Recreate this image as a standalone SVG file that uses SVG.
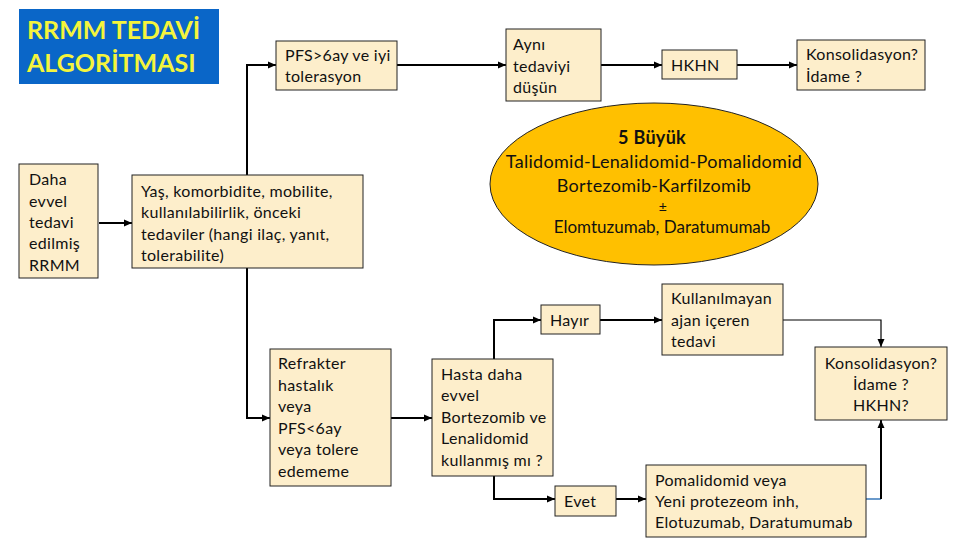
<svg xmlns="http://www.w3.org/2000/svg" width="960" height="540" viewBox="0 0 960 540">
<style>
.box{fill:#FDEECB;stroke:#222;stroke-width:1}
.t{font-family:Lato,"Open Sans","Liberation Sans",sans-serif;font-size:16px;letter-spacing:0.3px;fill:#111}
.c{text-anchor:middle}
.e{font-family:Lato,"Open Sans","Liberation Sans",sans-serif;font-size:18px;letter-spacing:0.3px;fill:#111;text-anchor:middle}
.ln{fill:none;stroke:#000;stroke-width:2}
.thin{fill:none;stroke:#000;stroke-width:1.2}
</style>
<defs>
<marker id="ah" markerUnits="userSpaceOnUse" markerWidth="8" markerHeight="8" refX="8" refY="4" orient="auto">
<path d="M0,0.5 L8,4 L0,7.5 z" fill="#000"/>
</marker>
</defs>
<rect width="960" height="540" fill="#fff"/>
<g id="title">
<rect x="19" y="9" width="200" height="75" fill="#0A66C8"/>
<text x="27" y="39" font-family="Lato,'Open Sans','Liberation Sans',sans-serif" font-size="25" font-weight="bold" fill="#F4F43C">RRMM TEDAVİ</text>
<text x="27" y="72" font-family="Lato,'Open Sans','Liberation Sans',sans-serif" font-size="25" font-weight="bold" fill="#F4F43C">ALGORİTMASI</text>
</g>
<g id="connectors">
<path class="ln" d="M99,223 H132" marker-end="url(#ah)"/>
<path class="ln" d="M247,175 V65 H276" marker-end="url(#ah)"/>
<path class="ln" d="M247,268 V418 H270" marker-end="url(#ah)"/>
<path class="ln" d="M397,65 H506" marker-end="url(#ah)"/>
<path class="ln" d="M601,65 H662" marker-end="url(#ah)"/>
<path class="ln" d="M737,65 H797" marker-end="url(#ah)"/>
<path class="ln" d="M391,418 H432" marker-end="url(#ah)"/>
<path class="ln" d="M494,359 V320 H541" marker-end="url(#ah)"/>
<path class="ln" d="M600,320 H662" marker-end="url(#ah)"/>
<path class="thin" d="M783,320 H881 V347" marker-end="url(#ah)"/>
<path class="ln" d="M494,476 V499 H555" marker-end="url(#ah)"/>
<path class="ln" d="M616,499 H646" marker-end="url(#ah)"/>
<path d="M866,499 H881" fill="none" stroke="#6A9ACB" stroke-width="2"/>
<path class="ln" d="M881,499 V420" marker-end="url(#ah)"/>
</g>
<g id="daha">
<rect class="box" x="19" y="164" width="79" height="114"/>
<text class="t" x="29" y="185">Daha</text>
<text class="t" x="29" y="207">evvel</text>
<text class="t" x="29" y="228">tedavi</text>
<text class="t" x="29" y="249">edilmiş</text>
<text class="t" x="29" y="271">RRMM</text>
</g>
<g id="yas">
<rect class="box" x="132" y="175" width="231" height="93"/>
<text class="t" x="141" y="197">Yaş, komorbidite, mobilite,</text>
<text class="t" x="141" y="218">kullanılabilirlik, önceki</text>
<text class="t" x="141" y="240">tedaviler (hangi ilaç, yanıt,</text>
<text class="t" x="141" y="261">tolerabilite)</text>
</g>
<g id="pfs">
<rect class="box" x="276" y="41" width="121" height="49"/>
<text class="t" x="285" y="61">PFS&gt;6ay ve iyi</text>
<text class="t" x="285" y="82">tolerasyon</text>
</g>
<g id="ayni">
<rect class="box" x="506" y="29" width="95" height="72"/>
<text class="t" x="513" y="50">Aynı</text>
<text class="t" x="513" y="72">tedaviyi</text>
<text class="t" x="513" y="93">düşün</text>
</g>
<g id="hkhn">
<rect class="box" x="662" y="50" width="75" height="29"/>
<text class="t" x="671" y="71">HKHN</text>
</g>
<g id="konsol1">
<rect class="box" x="797" y="40" width="128" height="50"/>
<text class="t" x="806" y="60">Konsolidasyon?</text>
<text class="t" x="806" y="82">İdame ?</text>
</g>
<g id="buyuk">
<ellipse cx="654" cy="184" rx="164" ry="81" fill="#FFC000" stroke="#222" stroke-width="1"/>
<text class="e" x="652" y="144" font-weight="bold">5 Büyük</text>
<text class="e" x="654" y="168">Talidomid-Lenalidomid-Pomalidomid</text>
<text class="e" x="654" y="192">Bortezomib-Karfilzomib</text>
<text class="e" x="663" y="212" style="font-size:14px">±</text>
<text class="e" x="662" y="233" style="font-size:17px;letter-spacing:0">Elomtuzumab, Daratumumab</text>
</g>
<g id="refrakter">
<rect class="box" x="270" y="349" width="121" height="137"/>
<text class="t" x="278" y="369">Refrakter</text>
<text class="t" x="278" y="391">hastalık</text>
<text class="t" x="278" y="412">veya</text>
<text class="t" x="278" y="434">PFS&lt;6ay</text>
<text class="t" x="278" y="455">veya tolere</text>
<text class="t" x="278" y="477">edememe</text>
</g>
<g id="hasta">
<rect class="box" x="432" y="359" width="121" height="117"/>
<text class="t" x="441" y="380">Hasta daha</text>
<text class="t" x="441" y="401">evvel</text>
<text class="t" x="441" y="423">Bortezomib ve</text>
<text class="t" x="441" y="444">Lenalidomid</text>
<text class="t" x="441" y="466">kullanmış mı ?</text>
</g>
<g id="hayir">
<rect class="box" x="541" y="305" width="59" height="29"/>
<text class="t" x="550" y="326">Hayır</text>
</g>
<g id="kullanilmayan">
<rect class="box" x="662" y="284" width="121" height="71"/>
<text class="t" x="671" y="304">Kullanılmayan</text>
<text class="t" x="671" y="326">ajan içeren</text>
<text class="t" x="671" y="347">tedavi</text>
</g>
<g id="konsol2">
<rect class="box" x="815" y="347" width="132" height="73"/>
<text class="t c" x="881" y="369">Konsolidasyon?</text>
<text class="t c" x="881" y="390">İdame ?</text>
<text class="t c" x="881" y="411">HKHN?</text>
</g>
<g id="evet">
<rect class="box" x="555" y="486" width="61" height="30"/>
<text class="t" x="564" y="507">Evet</text>
</g>
<g id="pomalidomid">
<rect class="box" x="646" y="465" width="220" height="72"/>
<text class="t" x="655" y="486">Pomalidomid veya</text>
<text class="t" x="655" y="507">Yeni protezeom inh,</text>
<text class="t" x="655" y="528">Elotuzumab, Daratumumab</text>
</g>
</svg>
